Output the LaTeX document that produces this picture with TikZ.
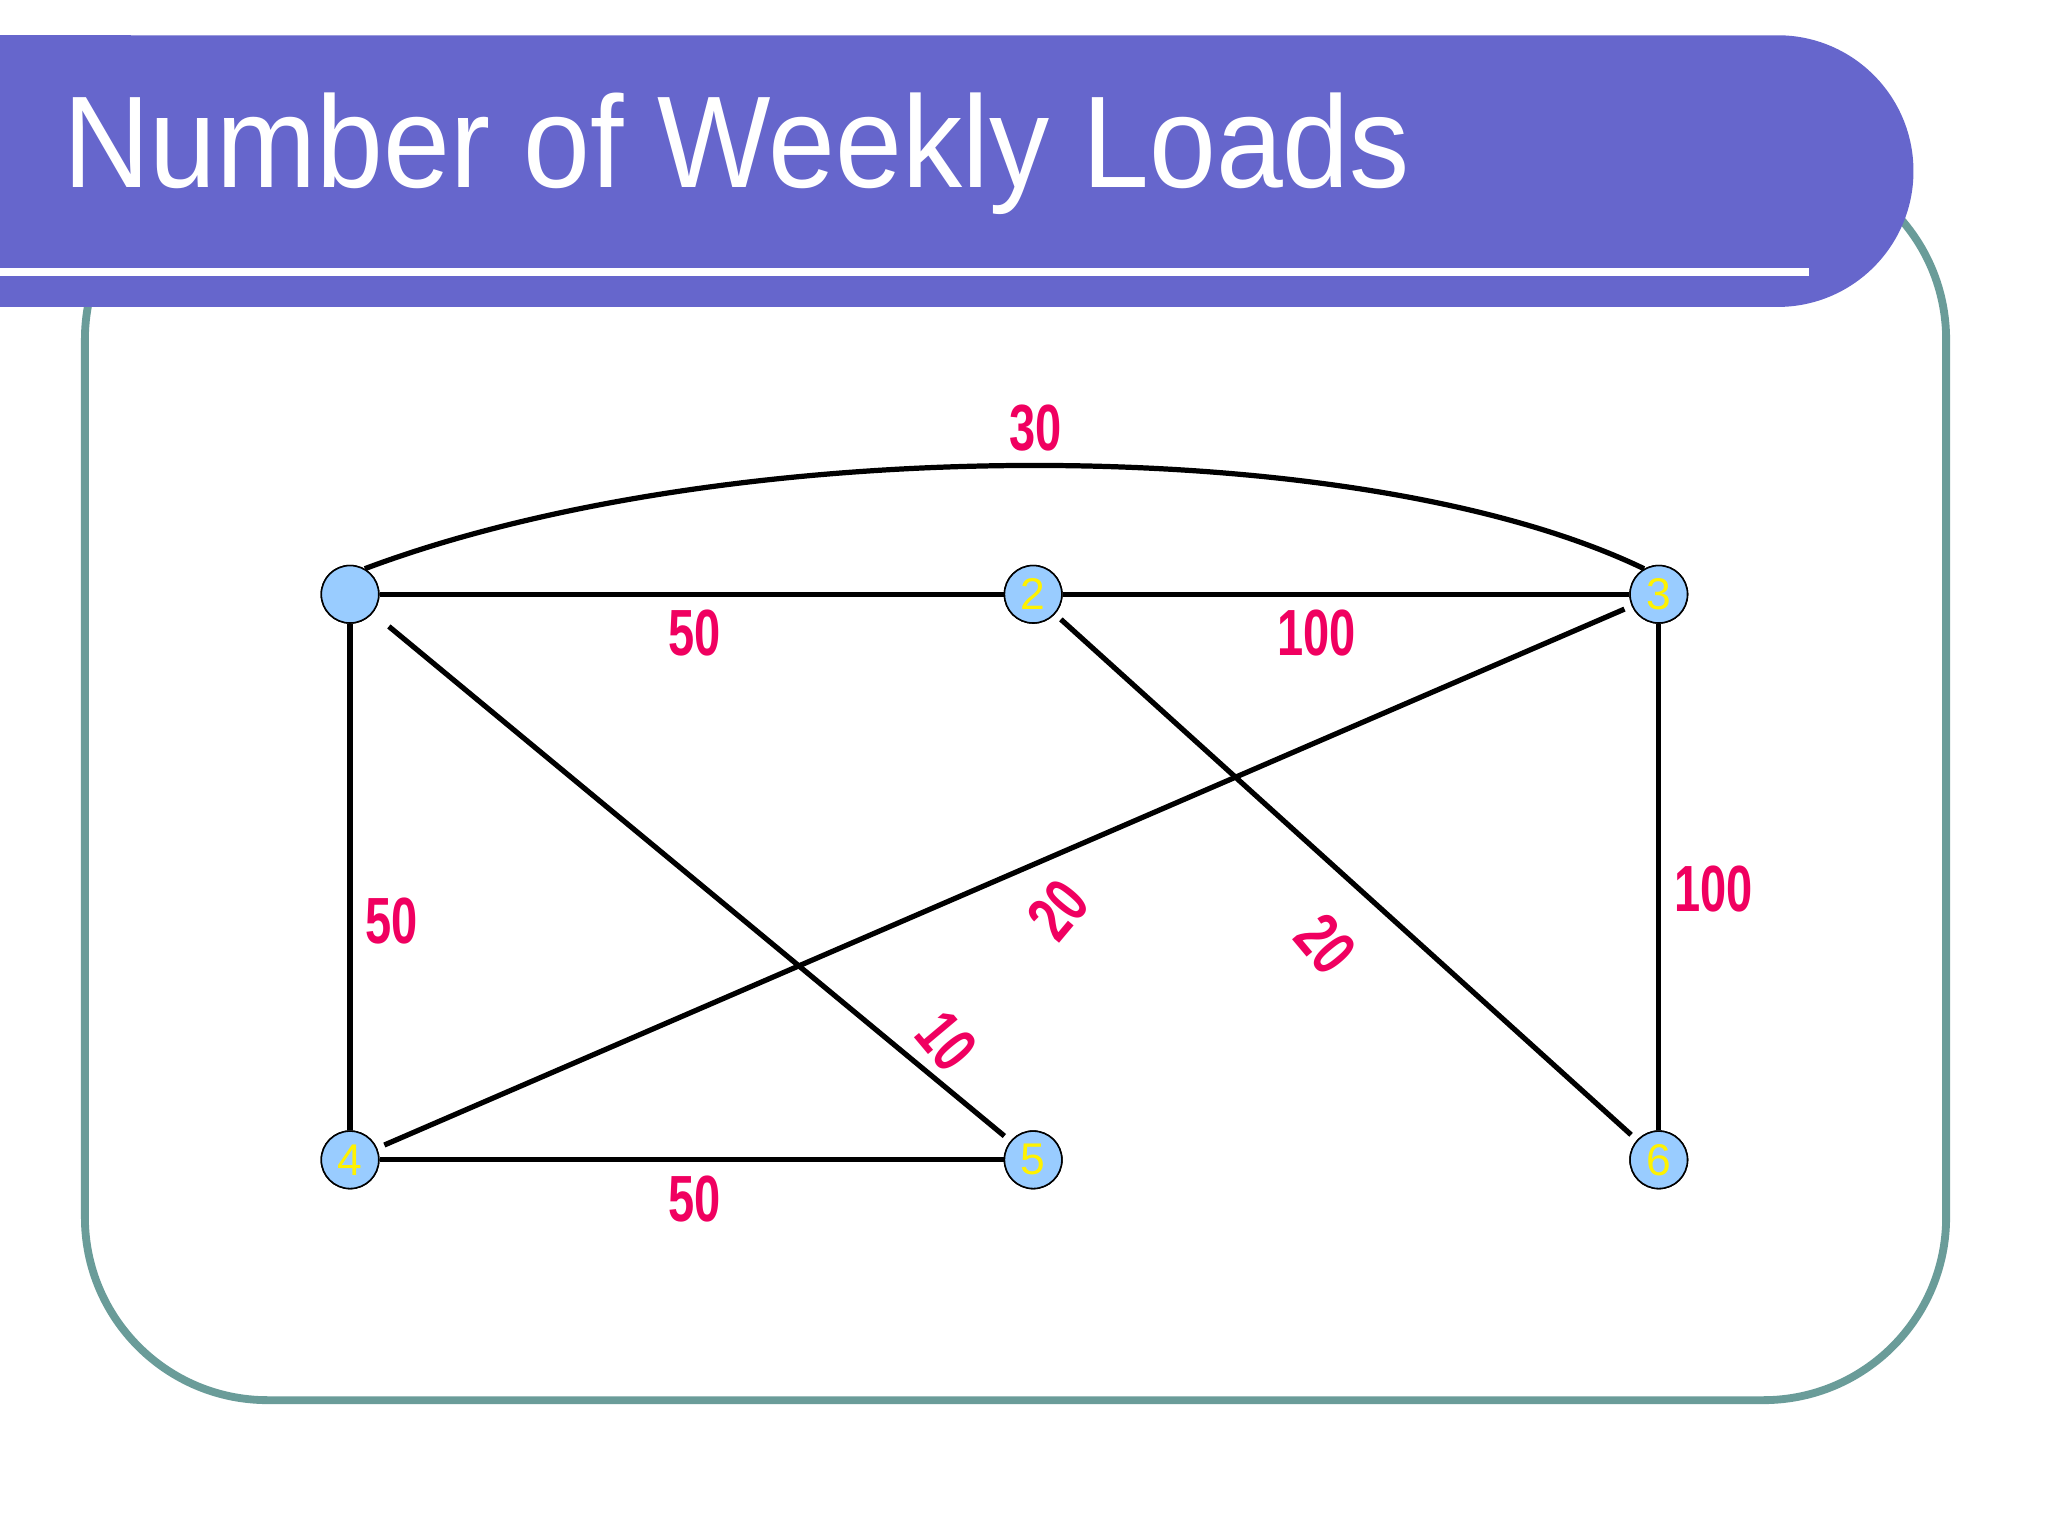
\documentclass[tikz,border=0pt]{standalone}
\usepackage{fontspec}
\setmainfont{Liberation Sans}
\definecolor{barblue}{HTML}{6666CC}
\definecolor{frameteal}{HTML}{6A9C99}
\definecolor{nodeblue}{HTML}{99CCFF}
\definecolor{lblred}{HTML}{F00060}
\tikzset{
  vtx/.style={circle,draw=black,line width=0.6pt,fill=nodeblue,minimum size=22pt,inner sep=0pt,text=yellow,font=\fontsize{17}{17}\selectfont},
  edge/.style={line width=2pt,black},
  wlbl/.style={text=lblred,font=\bfseries\fontsize{25}{25}\selectfont,inner sep=0pt}
}
\newcommand{\nw}[1]{\scalebox{0.72}[1]{#1}}
\begin{document}
\begin{tikzpicture}[x=0.5pt,y=-0.5pt]
\useasboundingbox[fill=white] (0,0) rectangle (1568,1176);
% frame
\draw[frameteal,line width=3pt,rounded corners=70pt] (65,120) rectangle (1490,1072);
% title bar
\fill[barblue,rounded corners=52pt] (-60,27) rectangle (1465,235);
\fill[barblue] (0,27) rectangle (100,235);
\fill[white] (0,205) rectangle (1385,211);
\node[anchor=west,text=white,font=\fontsize{50}{50}\selectfont,inner sep=0pt] (title) at (48,118) {\scalebox{0.92}[1]{Number of Weekly Loads}};
% nodes
\node[vtx] (n1) at (268,455) {};
\node[vtx] (n2) at (791,455) {2};
\node[vtx] (n3) at (1270,455) {3};
\node[vtx] (n4) at (268,888) {4};
\node[vtx] (n5) at (791,888) {5};
\node[vtx] (n6) at (1270,888) {6};
% edges
\draw[edge] (n1.60) .. controls (560,330) and (1040,330) .. (n3.120);
\draw[edge] (n1) -- (n2);
\draw[edge] (n2) -- (n3);
\draw[edge] (n1) -- (n4);
\draw[edge] (n3) -- (n6);
\draw[edge] (n4) -- (n5);
\draw[edge,shorten <=8pt,shorten >=3pt] (n1) -- (n5);
\draw[edge,shorten <=3pt,shorten >=3pt] (n2) -- (n6);
\draw[edge,shorten <=3pt,shorten >=3pt] (n3) -- (n4);
% redraw nodes on top
\node[vtx] at (268,455) {};
\node[vtx] at (791,455) {2};
\node[vtx] at (1270,455) {3};
\node[vtx] at (268,888) {4};
\node[vtx] at (791,888) {5};
\node[vtx] at (1270,888) {6};
% labels
\node[wlbl] (l13) at (793,328) {\nw{30}};
\node[wlbl] (l12) at (532,485) {\nw{50}};
\node[wlbl] (l23) at (1008,485) {\nw{100}};
\node[wlbl] (l14) at (300,705) {\nw{50}};
\node[wlbl] (l36) at (1312,681) {\nw{100}};
\node[wlbl,rotate=50] (l34) at (810,697) {\nw{20}};
\node[wlbl,rotate=-50] (l26) at (1015,723) {\nw{20}};
\node[wlbl,rotate=-50] (l15) at (725,797) {\nw{10}};
\node[wlbl] (l45) at (532,918) {\nw{50}};
\end{tikzpicture}
\end{document}
